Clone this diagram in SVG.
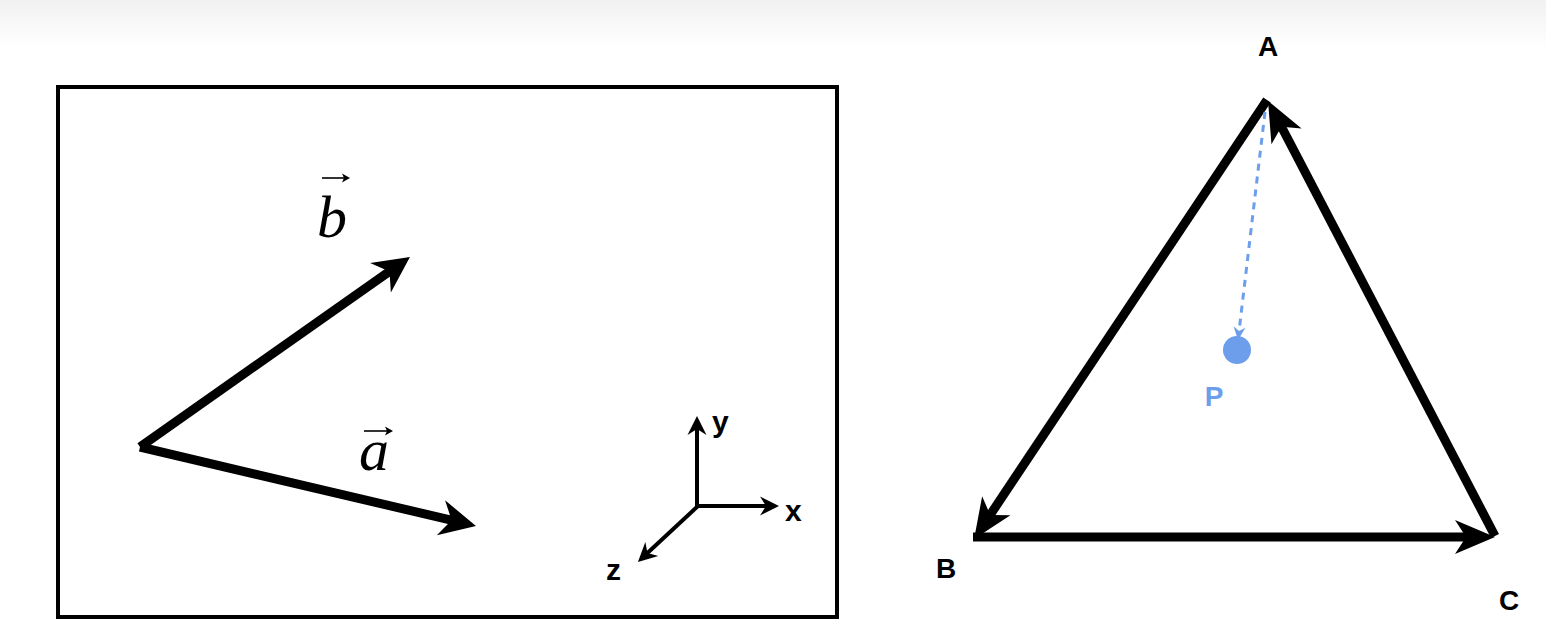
<svg xmlns="http://www.w3.org/2000/svg" width="1546" height="622" viewBox="0 0 1546 622">
  <style>
    .ln{fill:none;stroke:#000;stroke-linecap:butt}
    .lbl{font-family:"Liberation Sans",Arial,sans-serif;font-weight:bold;fill:#000}
    .math{font-family:"Liberation Serif","Times New Roman",serif;font-style:italic;fill:#000}
    .blue{fill:#6d9eeb}
  </style>
  <defs>
    <linearGradient id="topg" x1="0" y1="0" x2="0" y2="1">
      <stop offset="0" stop-color="#f1f1f1"/>
      <stop offset="1" stop-color="#ffffff"/>
    </linearGradient>
    <marker id="mBig" markerUnits="userSpaceOnUse" orient="auto" viewBox="-40 -20 42 40" refX="-20" refY="0" markerWidth="42" markerHeight="40">
      <path d="M0,0 L-36,-18 L-25,0 L-36,18 Z" fill="#000"/>
    </marker>
    <marker id="mTri" markerUnits="userSpaceOnUse" orient="auto" viewBox="-44 -20 46 40" refX="-22" refY="0" markerWidth="46" markerHeight="40">
      <path d="M0,0 L-40,-17 L-29,0 L-40,17 Z" fill="#000"/>
    </marker>
    <marker id="mAx" markerUnits="userSpaceOnUse" orient="auto" viewBox="-24 -12 26 24" refX="-9" refY="0" markerWidth="26" markerHeight="24">
      <path d="M0,0 L-19,-9.5 L-13,0 L-19,9.5 Z" fill="#000"/>
    </marker>
    <marker id="mBlue" markerUnits="userSpaceOnUse" orient="auto" viewBox="-16 -8 18 16" refX="-6" refY="0" markerWidth="18" markerHeight="16">
      <path d="M0,0 L-13,-6 L-9,0 L-13,6 Z" fill="#6d9eeb"/>
    </marker>
    <marker id="mSmall" markerUnits="userSpaceOnUse" orient="auto" viewBox="-10 -6 12 12" refX="-4" refY="0" markerWidth="12" markerHeight="12">
      <path d="M0,0 L-8,-4.5 L-6,0 L-8,4.5 Z" fill="#000"/>
    </marker>
  </defs>

  <rect x="0" y="0" width="1546" height="48" fill="url(#topg)"/>

  <g id="frame">
    <rect x="58" y="87" width="779" height="530" fill="none" stroke="#000" stroke-width="4"/>
  </g>

  <g id="connectors">
    <!-- vectors -->
    <path class="ln" d="M140,447 L393.6,268.5" stroke-width="9" marker-end="url(#mBig)"/>
    <path class="ln" d="M140,447 L456.5,521.4" stroke-width="9" marker-end="url(#mBig)"/>
    <!-- axes -->
    <path class="ln" d="M697,508 L697,425" stroke-width="4" marker-end="url(#mAx)"/>
    <path class="ln" d="M695,506 L770,506" stroke-width="4" marker-end="url(#mAx)"/>
    <path class="ln" d="M698,506 L644.5,555.8" stroke-width="4" marker-end="url(#mAx)"/>
    <!-- triangle -->
    <path class="ln" d="M1267,100 L986.3,520.7" stroke-width="9" marker-end="url(#mTri)"/>
    <path class="ln" d="M973,537 L1473,537" stroke-width="9" marker-end="url(#mTri)"/>
    <path class="ln" d="M1495,536 L1278.2,120.5" stroke-width="9" marker-end="url(#mTri)"/>
    <!-- dashed A to P -->
    <path d="M1265,112 L1238.7,334" fill="none" stroke="#6d9eeb" stroke-width="3" stroke-dasharray="7,6" marker-end="url(#mBlue)"/>
  </g>

  <g id="label-b">
    <text class="math" x="317" y="237" font-size="60">b</text>
    <path class="ln" d="M322,178 L346,178" stroke-width="1.6" marker-end="url(#mSmall)"/>
  </g>
  <g id="label-a">
    <text class="math" x="359" y="470" font-size="60">a</text>
    <path class="ln" d="M364,431 L389,431" stroke-width="1.6" marker-end="url(#mSmall)"/>
  </g>

  <g id="axis-labels">
    <text class="lbl" x="712" y="432" font-size="30">y</text>
    <text class="lbl" x="785" y="521" font-size="30">x</text>
    <text class="lbl" x="606" y="580" font-size="30">z</text>
  </g>

  <g id="node-A"><text class="lbl" x="1268" y="56" font-size="28" text-anchor="middle">A</text></g>
  <g id="node-B"><text class="lbl" x="946" y="578" font-size="28" text-anchor="middle">B</text></g>
  <g id="node-C"><text class="lbl" x="1509" y="610" font-size="28" text-anchor="middle">C</text></g>
  <g id="node-P">
    <circle class="blue" cx="1237" cy="350" r="14"/>
    <text class="lbl blue" x="1214" y="406" font-size="28" text-anchor="middle">P</text>
  </g>
</svg>
